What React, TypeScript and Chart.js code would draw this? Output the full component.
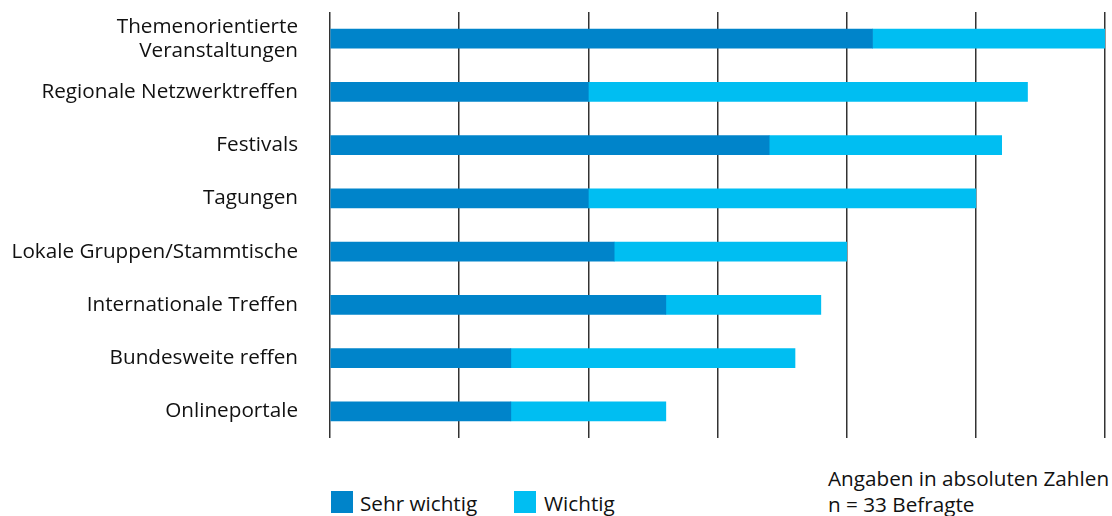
import React, { useEffect, useRef } from "react";
import { Chart, registerables } from "chart.js";

Chart.register(...registerables);

const categories: (string | string[])[] = [
  ["Themenorientierte", "Veranstaltungen"],
  "Regionale Netzwerktreffen",
  "Festivals",
  "Tagungen",
  "Lokale Gruppen/Stammtische",
  "Internationale Treffen",
  "Bundesweite reffen",
  "Onlineportale",
];
const sehrWichtig = [21, 10, 17, 10, 11, 13, 7, 7];
const wichtig = [9, 17, 9, 15, 9, 6, 11, 6];
const seriesNames = ["Sehr wichtig", "Wichtig"];
const noteLines = ["Angaben in absoluten Zahlen", "n = 33 Befragte"];

const DARK = "#0084CA";
const LIGHT = "#00BEF2";
const FONT = "'Open Sans'";
const FS = 20.7;

export default function App() {
  const ref = useRef<HTMLCanvasElement>(null);
  useEffect(() => {
    if (!ref.current) return;
    const chart = new Chart(ref.current, {
      type: "bar",
      data: {
        labels: categories,
        datasets: [
          { label: seriesNames[0], data: sehrWichtig, backgroundColor: DARK, barThickness: 19 },
          { label: seriesNames[1], data: wichtig, backgroundColor: LIGHT, barThickness: 19 },
        ],
      },
      options: {
        indexAxis: "y",
        animation: false,
        responsive: false,
        maintainAspectRatio: false,
        layout: { padding: { top: 12, right: 7, left: 0, bottom: 0 } },
        plugins: { legend: { display: false }, tooltip: { enabled: false } },
        scales: {
          x: {
            stacked: true,
            min: 0,
            max: 30,
            ticks: { display: false, stepSize: 5 },
            grid: { color: "#333333", lineWidth: 1.5, drawTicks: false },
            border: { display: false },
          },
          y: {
            stacked: true,
            grid: { display: false, drawTicks: false },
            border: { display: false },
            ticks: {
              color: "#111111",
              padding: 32,
              font: { family: FONT, size: FS, lineHeight: 1.16 },
            },
            afterFit: (scale: any) => {
              scale.width = 330;
              scale.paddingTop = 0;
              scale.paddingBottom = 0;
            },
          },
        },
      },
    });
    return () => chart.destroy();
  }, []);

  const textStyle: React.CSSProperties = {
    fontFamily: FONT,
    fontSize: FS,
    color: "#111111",
    position: "absolute",
    whiteSpace: "nowrap",
  };

  return (
    <div style={{ position: "absolute", left: 0, top: 0, width: 1112, height: 516, background: "#fff", overflow: "hidden" }}>
      <canvas ref={ref} width={1112} height={438} style={{ position: "absolute", left: 0, top: 0, width: 1112, height: 438 }} />
      <div style={{ position: "absolute", left: 331, top: 491, width: 22, height: 22, background: DARK }} />
      <div style={{ ...textStyle, left: 360, top: 491, lineHeight: "24px" }}>{seriesNames[0]}</div>
      <div style={{ position: "absolute", left: 514, top: 491, width: 22, height: 22, background: LIGHT }} />
      <div style={{ ...textStyle, left: 544, top: 491, lineHeight: "24px" }}>{seriesNames[1]}</div>
      <div style={{ ...textStyle, left: 828, top: 465, lineHeight: "26px" }}>
        {noteLines[0]}
        <br />
        {noteLines[1]}
      </div>
    </div>
  );
}
